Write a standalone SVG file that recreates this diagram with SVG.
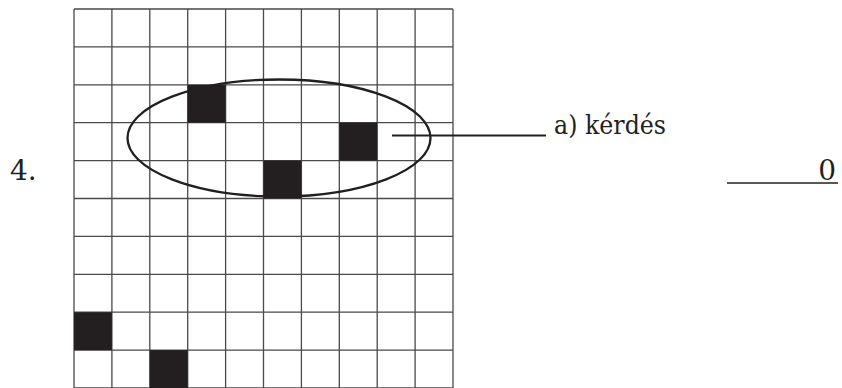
<svg xmlns="http://www.w3.org/2000/svg" width="842" height="388" viewBox="0 0 842 388">
  <style>
    .grid { fill: none; stroke: #4a4a4a; stroke-width: 1.3; }
    .cell { fill: #231f20; }
    .ink { fill: none; stroke: #231f20; }
    .lbl { fill: #231f20; font-family: "DejaVu Serif", "Liberation Serif", serif; }
  </style>
  <rect width="842" height="388" fill="#ffffff"/>
  <g id="grid">
    <path class="grid" d="M74,9V388 M111.9,9V388 M149.8,9V388 M187.7,9V388 M225.6,9V388 M263.5,9V388 M301.4,9V388 M339.3,9V388 M377.2,9V388 M415.1,9V388 M453,9V388 M74,9H453 M74,46.9H453 M74,84.8H453 M74,122.7H453 M74,160.6H453 M74,198.5H453 M74,236.4H453 M74,274.3H453 M74,312.2H453 M74,350.1H453 M74,388H453"/>
  </g>
  <g id="filled-cells">
    <rect class="cell" x="187.7" y="84.8" width="37.9" height="37.9"/>
    <rect class="cell" x="339.3" y="122.7" width="37.9" height="37.9"/>
    <rect class="cell" x="263.5" y="160.6" width="37.9" height="37.9"/>
    <rect class="cell" x="74" y="312.2" width="37.9" height="37.9"/>
    <rect class="cell" x="149.8" y="350.1" width="37.9" height="37.9"/>
  </g>
  <g id="ellipse">
    <ellipse class="ink" cx="279" cy="138" rx="151.5" ry="58.5" stroke-width="2.3"/>
  </g>
  <g id="connectors">
    <line class="ink" x1="392" y1="135.5" x2="546" y2="135.5" stroke-width="2"/>
    <line class="ink" x1="727" y1="183" x2="838" y2="183" stroke-width="1.4"/>
  </g>
  <g id="labels">
    <text class="lbl" x="554" y="133.5" font-size="25.5" textLength="112" lengthAdjust="spacingAndGlyphs">a) kérdés</text>
    <text class="lbl" x="10" y="179.5" font-size="28">4.</text>
    <text class="lbl" x="836" y="180" font-size="28" text-anchor="end">0</text>
  </g>
</svg>
